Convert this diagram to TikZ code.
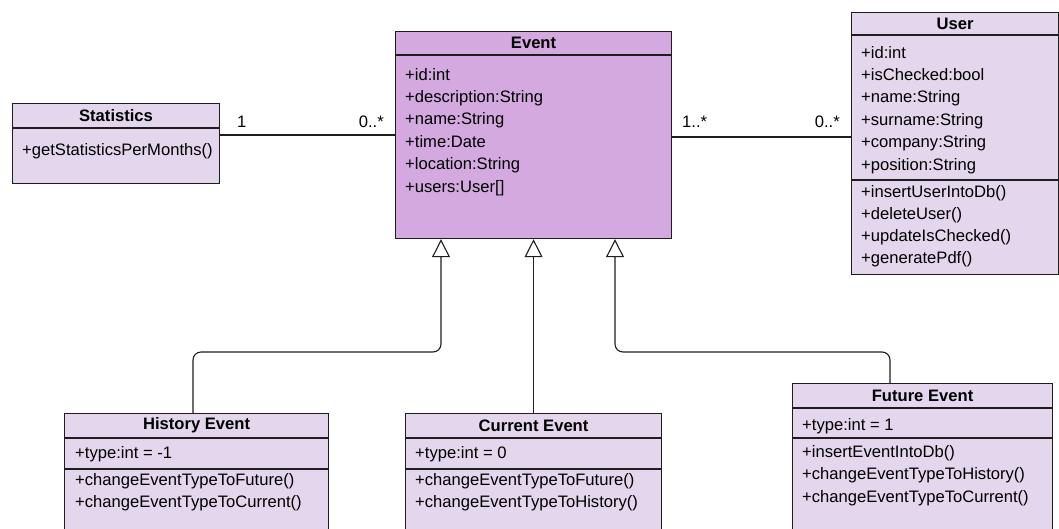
\documentclass[tikz,border=0pt]{standalone}
\usepackage{fontspec}
\setmainfont{Liberation Sans}
\usetikzlibrary{arrows.meta,calc}
\definecolor{lightp}{HTML}{E4D6EC}
\definecolor{darkp}{HTML}{D3A9E0}
\definecolor{edge}{HTML}{1E1E1E}
\tikzset{
  box/.style={draw=edge, line width=1.1pt, fill=lightp, rectangle, inner sep=0pt, anchor=north west},
  hdr/.style={box, font=\fontsize{16.6}{18}\selectfont\bfseries},
  txt/.style={anchor=base west, inner sep=0pt, font=\fontsize{16.6}{18}\selectfont},
  lbl/.style={inner sep=0pt, font=\fontsize{16.6}{18}\selectfont},
  assoc/.style={draw=edge, line width=1.1pt},
  gen/.style={draw=edge, line width=1.1pt, rounded corners=8pt, -{Triangle[open, length=18pt, width=18pt, line width=1.1pt]}}
}
\begin{document}
\begin{tikzpicture}[x=1pt, y=-1pt]
\useasboundingbox (0,0) rectangle (1059,528);
\clip (0,0) rectangle (1059,528);
\fill[white] (0,0) rectangle (1059,528);

% Statistics
\node[hdr, minimum width=207pt, minimum height=24pt] (stath) at (12,103) {Statistics};
\node[box, minimum width=207pt, minimum height=55pt] (statb) at (stath.south west) {};
\node[txt] (st1) at (22,155) {+getStatisticsPerMonths()};

% Event
\node[hdr, fill=darkp, minimum width=276pt, minimum height=23pt] (evh) at (395,31) {Event};
\node[box, fill=darkp, minimum width=276pt, minimum height=183pt] (evb) at (evh.south west) {};
\foreach \t [count=\i] in {+id:int,+description:String,+name:String,+time:Date,+location:String,+users:User[]}
  \node[txt] (ev\i) at (405,{80+22.4*(\i-1)}) {\t};

% User
\node[hdr, minimum width=207pt, minimum height=22pt] (ush) at (851,12) {User};
\node[box, minimum width=207pt, minimum height=144pt] (usa) at (ush.south west) {};
\node[box, minimum width=207pt, minimum height=94pt] (usm) at (usa.south west) {};
\foreach \t [count=\i] in {+id:int,+isChecked:bool,+name:String,+surname:String,+company:String,+position:String}
  \node[txt] (usa\i) at (861,{58+22.4*(\i-1)}) {\t};
\foreach \t [count=\i] in {+insertUserIntoDb(),+deleteUser(),+updateIsChecked(),+generatePdf()}
  \node[txt] (usm\i) at (861,{197+22.3*(\i-1)}) {\t};

% History Event
\node[hdr, minimum width=264pt, minimum height=24pt] (hih) at (64,413) {History Event};
\node[box, minimum width=264pt, minimum height=30pt] (hia) at (hih.south west) {};
\node[box, minimum width=264pt, minimum height=80pt] (him) at (hia.south west) {};
\node[txt] (hia1) at (75,458) {+type:int = -1};
\node[txt] (him1) at (75,485) {+changeEventTypeToFuture()};
\node[txt] (him2) at (75,507) {+changeEventTypeToCurrent()};

% Current Event
\node[hdr, minimum width=256pt, minimum height=24pt] (cuh) at (405,413) {Current Event};
\node[box, minimum width=256pt, minimum height=30pt] (cua) at (cuh.south west) {};
\node[box, minimum width=256pt, minimum height=80pt] (cum) at (cua.south west) {};
\node[txt] (cua1) at (415,458) {+type:int = 0};
\node[txt] (cum1) at (415,485) {+changeEventTypeToFuture()};
\node[txt] (cum2) at (415,507) {+changeEventTypeToHistory()};

% Future Event
\node[hdr, minimum width=260pt, minimum height=24pt] (fuh) at (792,383) {Future Event};
\node[box, minimum width=260pt, minimum height=29pt] (fua) at (fuh.south west) {};
\node[box, minimum width=260pt, minimum height=110pt] (fum) at (fua.south west) {};
\node[txt] (fua1) at (802,430) {+type:int = 1};
\node[txt] (fum1) at (802,457) {+insertEventIntoDb()};
\node[txt] (fum2) at (802,479.5) {+changeEventTypeToHistory()};
\node[txt] (fum3) at (802,502) {+changeEventTypeToCurrent()};

% Associations
\coordinate (a1) at (300,135);
\coordinate (a2) at (760,137);
\draw[assoc] (a1 -| statb.east) -- (a1 -| evb.west);
\draw[assoc] (a2 -| evb.east) -- (a2 -| usa.west);
\node[lbl, anchor=base west] (m1) at (237,127) {1};
\node[lbl, anchor=base east] (m2) at (384,127) {0..*};
\node[lbl, anchor=base west] (m3) at (682,127) {1..*};
\node[lbl, anchor=base east] (m4) at (840,127) {0..*};

% Generalizations
\coordinate (j1) at (441,352);
\coordinate (j3) at (615,352);
\coordinate (h0) at ($(hih.north west)+(129,0)$);
\coordinate (f0) at ($(fuh.north west)+(98,0)$);
\draw[gen] (h0) |- (j1) -- (j1 |- evb.south);
\draw[gen] (cuh.north) -- (cuh.north |- evb.south);
\draw[gen] (f0) |- (j3) -- (j3 |- evb.south);
\end{tikzpicture}
\end{document}
